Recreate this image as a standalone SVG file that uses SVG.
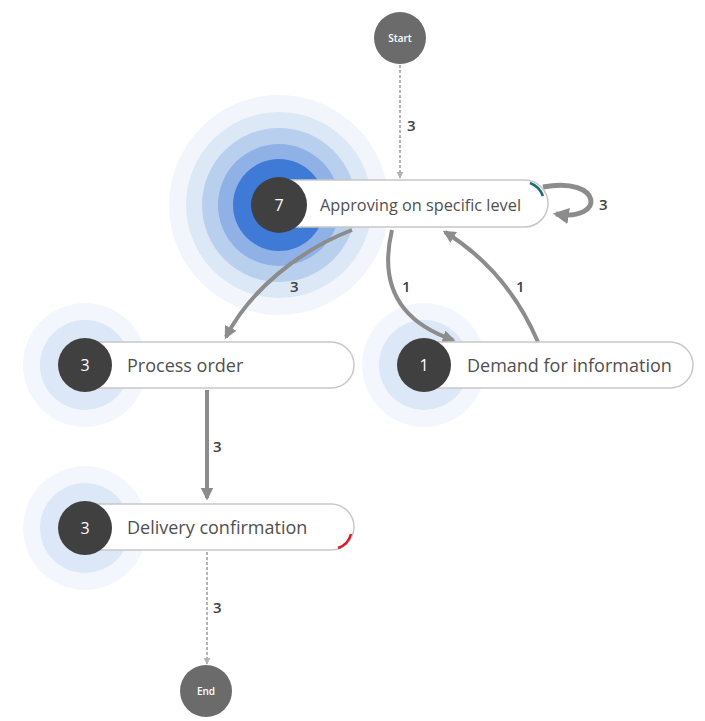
<svg xmlns="http://www.w3.org/2000/svg" width="705" height="721" viewBox="0 0 705 721">
<defs>
<style>
.pill{fill:#fff;stroke:#c8c8c8;stroke-width:1.5}
.cnt{fill:#404040}
.cnum{font-family:"Open Sans","Noto Sans",sans-serif;font-size:16px;fill:#fff;text-anchor:middle}
.lbl{font-family:"Open Sans","Noto Sans",sans-serif;font-size:18px;fill:#505050}
.elbl{font-family:"Open Sans","Noto Sans",sans-serif;font-size:15px;fill:#404040;font-weight:600}
.term{fill:#6b6b6b}
.tlbl{font-family:"Open Sans","Noto Sans",sans-serif;font-size:10px;fill:#fff;text-anchor:middle;font-weight:600}
.solid{fill:none;stroke:#8c8c8c;stroke-width:4}
.dash{fill:none;stroke:#b4b4b4;stroke-width:2;stroke-dasharray:3 2}
</style>
<marker id="ah" viewBox="0 0 10 10" refX="8" refY="5" markerWidth="3.2" markerHeight="3.2" orient="auto" markerUnits="strokeWidth"><path d="M0,0 L10,5 L0,10 z" fill="#8c8c8c"/></marker>
<marker id="ahd" viewBox="0 0 10 10" refX="9" refY="5" markerWidth="7" markerHeight="8" orient="auto" markerUnits="userSpaceOnUse"><path d="M0,0 L10,5 L0,10 z" fill="#b4b4b4"/></marker>
</defs>
<rect width="705" height="721" fill="#fff"/>

<g id="halos">
<circle cx="279" cy="205" r="110" fill="#f2f6fc"/>
<circle cx="279" cy="205" r="93" fill="#dde8f7"/>
<circle cx="279" cy="205" r="77" fill="#b9cfee"/>
<circle cx="279" cy="205" r="61" fill="#8fb1e6"/>
<circle cx="279" cy="205" r="46" fill="#3f7ad6"/>
<circle cx="85" cy="365" r="62" fill="#f3f7fd"/>
<circle cx="85" cy="365" r="45" fill="#dce7f7"/>
<circle cx="424" cy="365" r="62" fill="#f3f7fd"/>
<circle cx="424" cy="365" r="45" fill="#dce7f7"/>
<circle cx="85" cy="528" r="62" fill="#f3f7fd"/>
<circle cx="85" cy="528" r="45" fill="#dce7f7"/>
</g>

<g id="connectors">
<path class="dash" d="M400,65 L400,178" marker-end="url(#ahd)"/>
<text class="elbl" x="407" y="131">3</text>
<path class="solid" d="M543,187 C603,176 606,222 556,214" style="stroke-width:5" marker-end="url(#ah)"/>
<text class="elbl" x="599" y="210">3</text>
<path class="solid" d="M352,230 C300,250 250,290 226,337" marker-end="url(#ah)"/>
<text class="elbl" x="290" y="292">3</text>
<path class="solid" d="M392,230 C380,280 395,320 453,340" marker-end="url(#ah)"/>
<text class="elbl" x="402" y="292">1</text>
<path class="solid" d="M538,342 C520,300 490,260 445,232" marker-end="url(#ah)"/>
<text class="elbl" x="516" y="292">1</text>
<path class="solid" d="M207,390 L207,498" marker-end="url(#ah)"/>
<text class="elbl" x="213" y="452">3</text>
<path class="dash" d="M207,552 L207,664" marker-end="url(#ahd)"/>
<text class="elbl" x="213" y="613">3</text>
</g>

<g id="start">
<circle class="term" cx="400" cy="38" r="26"/>
<text class="tlbl" x="400" y="42">Start</text>
</g>

<g id="approving">
<rect class="pill" x="262" y="180" width="286" height="47" rx="23.5"/>
<circle class="cnt" cx="279" cy="205" r="28"/>
<text class="cnum" x="279" y="211">7</text>
<text class="lbl" x="320" y="211" style="font-size:16.3px">Approving on specific level</text>
<path d="M530,183 A22,22 0 0 1 543,196" fill="none" stroke="#1f6b7a" stroke-width="2.5"/>
</g>

<g id="process-order">
<rect class="pill" x="68" y="342" width="286" height="46" rx="23"/>
<circle class="cnt" cx="85" cy="365" r="27"/>
<text class="cnum" x="85" y="371">3</text>
<text class="lbl" x="127" y="372">Process order</text>
</g>

<g id="demand">
<rect class="pill" x="407" y="342" width="286" height="46" rx="23"/>
<circle class="cnt" cx="424" cy="365" r="27"/>
<text class="cnum" x="424" y="371">1</text>
<text class="lbl" x="467" y="372">Demand for information</text>
</g>

<g id="delivery">
<rect class="pill" x="68" y="504" width="286" height="46" rx="23"/>
<circle class="cnt" cx="85" cy="528" r="27"/>
<text class="cnum" x="85" y="534">3</text>
<text class="lbl" x="127" y="534">Delivery confirmation</text>
<path d="M351,534 A20,20 0 0 1 338,548" fill="none" stroke="#d0202a" stroke-width="2.5"/>
</g>

<g id="end">
<circle class="term" cx="206" cy="691" r="26"/>
<text class="tlbl" x="206" y="695">End</text>
</g>
</svg>
